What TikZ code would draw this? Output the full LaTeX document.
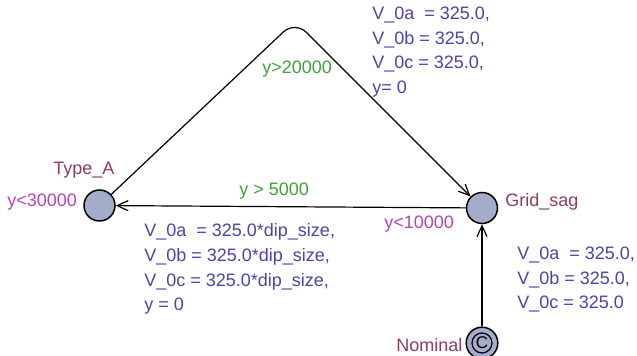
\documentclass[tikz,border=0pt]{standalone}
\usepackage{fontspec}
\setmainfont{Liberation Sans}
\usetikzlibrary{arrows.meta}
\definecolor{upLoc}{HTML}{A3ACCB}
\definecolor{upName}{HTML}{8E3A62}
\definecolor{upInv}{HTML}{B445B4}
\definecolor{upGuard}{HTML}{3DA23D}
\definecolor{upAssign}{HTML}{4646AA}
\tikzset{
  loc/.style={circle,draw=black,line width=0.75pt,fill=upLoc,
    minimum size=15.5pt,inner sep=0pt},
  edge/.style={-{Straight Barb[length=5.5pt,width=5pt]},line width=0.6pt,
    color=black},
  lbl/.style={inner sep=0pt,font=\fontsize{9}{12.4}\selectfont},
  locname/.style={lbl,anchor=base west,text=upName},
  invlbl/.style={lbl,anchor=base west,text=upInv},
  guardlbl/.style={lbl,anchor=base west,text=upGuard},
  assignlbl/.style={lbl,anchor=north west,align=left,text=upAssign},
}
\begin{document}
\begin{tikzpicture}[x=0.5pt,y=-0.5pt]
  \useasboundingbox (0,0) rectangle (637,356);

  % Locations
  \node[loc] (typeA) at (99.5,205.5) {};
  \node[loc] (gridSag) at (482,208) {};
  \node[loc,minimum size=15.8pt] (nominal) at (482,343) {};
  \node[loc,minimum size=10pt,line width=0.6pt,
    font=\fontsize{8.5}{9}\selectfont] (nominalC) at (nominal) {C};

  % Edges
  \coordinate (apex) at (295,21);
  \draw[edge,rounded corners=8pt] (typeA) -- (apex) -- (gridSag);
  \draw[edge] (gridSag) -- (typeA);
  \draw[edge] (nominal) -- (gridSag);

  % Names and invariants
  \node[locname] (typeAName) at (53,175) {Type\_A};
  \node[invlbl] (typeAInv) at (7,207) {y<30000};
  \node[locname] (gridSagName) at (505,206.7) {Grid\_sag};
  \node[invlbl] (gridSagInv) at (384,228.3) {y<10000};
  \node[locname] (nominalName) at (396,351.7) {Nominal};

  % Guards
  \node[guardlbl] (guardTop) at (262,74) {y>20000};
  \node[guardlbl] (guardMid) at (239,196) {y > 5000};

  % Updates
  \node[assignlbl] (assignTop) at (372,6.3)
    {V\_0a\ \ = 325.0,\\V\_0b = 325.0,\\V\_0c = 325.0,\\y= 0};
  \node[assignlbl] (assignMid) at (144,223)
    {V\_0a\ \ = 325.0*dip\_size,\\V\_0b = 325.0*dip\_size,\\
     V\_0c = 325.0*dip\_size,\\y = 0};
  \node[assignlbl] (assignNom) at (517,246.3)
    {V\_0a\ \ = 325.0,\\V\_0b = 325.0,\\V\_0c = 325.0};
\end{tikzpicture}
\end{document}
